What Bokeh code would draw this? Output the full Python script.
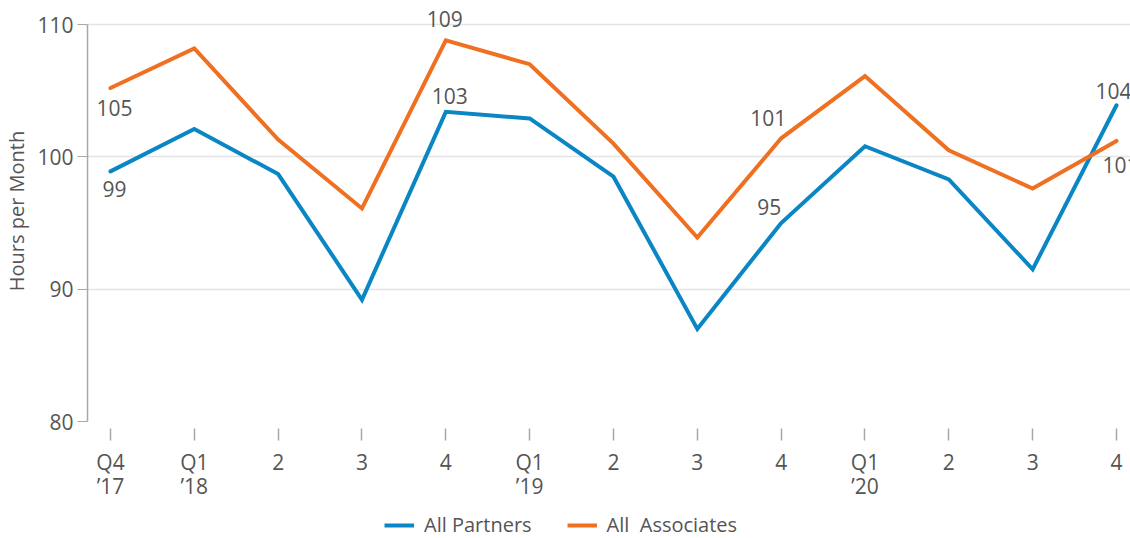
from bokeh.plotting import figure
from bokeh.layouts import column
from bokeh.models import FixedTicker, Legend, LegendItem, ColumnDataSource, Range1d
from bokeh.core.properties import value
from bokeh.embed import file_html
from bokeh.resources import INLINE

# ---- data ----
quarters = ["Q4\n\u201917", "Q1\n\u201918", "2", "3", "4", "Q1\n\u201919", "2", "3", "4",
            "Q1\n\u201920", "2", "3", "4"]
partners = [98.9, 102.1, 98.7, 89.2, 103.4, 102.9, 98.5, 87.0, 95.0, 100.8, 98.3, 91.5, 103.9]
associates = [105.2, 108.2, 101.3, 96.1, 108.8, 107.0, 101.0, 93.9, 101.4, 106.1, 100.5, 97.6, 101.2]
y_ticks = [80, 90, 100, 110]
series_names = ["All Partners", "All\u00a0 Associates"]

# labelled points (index into series)
partner_label_idx = [0, 4, 8, 12]
associate_label_idx = [0, 4, 8, 12]

# ---- style ----
FONT = "Open Sans"
TXT = "#555555"
BLUE = "#0a86c4"
ORANGE = "#f07022"
FS = "21px"

x = list(range(len(quarters)))

y_lo, y_hi = y_ticks[0], y_ticks[-1]
p = figure(width=1130, height=503, output_backend="svg", toolbar_location=None,
           x_range=Range1d(-0.274, 12.167),
           y_range=Range1d(y_lo, y_hi + (y_hi - y_lo) * 24 / 397),
           min_border_left=87, min_border_right=0, min_border_top=0, min_border_bottom=82)
p.outline_line_color = None
p.background_fill_color = "white"
p.border_fill_color = "white"

r_p = p.line(x, partners, line_color=BLUE, line_width=4, line_join="miter", line_cap="round")
r_a = p.line(x, associates, line_color=ORANGE, line_width=4, line_join="miter", line_cap="round")

# data labels
p_off_x = [4, 4, -12, -3]
p_off_y = [18, -16, -16, -14]
a_off_x = [4, -1, -13, 4]
a_off_y = [20, -21, -20, 24]

src_p = ColumnDataSource(dict(
    x=[x[i] for i in partner_label_idx],
    y=[partners[i] for i in partner_label_idx],
    t=[f"{partners[i]:.0f}" for i in partner_label_idx],
    ox=p_off_x, oy=p_off_y))
src_a = ColumnDataSource(dict(
    x=[x[i] for i in associate_label_idx],
    y=[associates[i] for i in associate_label_idx],
    t=[f"{associates[i]:.0f}" for i in associate_label_idx],
    ox=a_off_x, oy=a_off_y))
for s in (src_p, src_a):
    p.text(x="x", y="y", text="t", x_offset="ox", y_offset="oy", source=s,
           text_font=value(FONT), text_font_size=FS, text_color=TXT,
           text_align="center", text_baseline="middle")

# y axis
p.yaxis.ticker = FixedTicker(ticks=y_ticks)
p.yaxis.bounds = (y_lo, y_hi)
p.yaxis.axis_line_color = "#a8a8a8"
p.yaxis.axis_line_width = 1.5
p.yaxis.major_tick_line_color = "#a8a8a8"
p.yaxis.major_tick_in = 0
p.yaxis.major_tick_out = 10
p.yaxis.minor_tick_line_color = None
p.yaxis.major_label_text_font = FONT
p.yaxis.major_label_text_font_size = FS
p.yaxis.major_label_text_color = TXT
p.yaxis.major_label_standoff = 4
p.yaxis.axis_label = "Hours per Month"
p.yaxis.axis_label_text_font = FONT
p.yaxis.axis_label_text_font_size = "20px"
p.yaxis.axis_label_text_font_style = "normal"
p.yaxis.axis_label_text_color = TXT
p.yaxis.axis_label_standoff = 4

# x axis
p.xaxis.ticker = FixedTicker(ticks=x)
p.xaxis.major_label_overrides = {i: q for i, q in enumerate(quarters)}
p.xaxis.axis_line_color = None
p.xaxis.major_tick_line_color = "#a8a8a8"
p.xaxis.major_tick_line_width = 1.5
p.xaxis.major_tick_in = -7
p.xaxis.major_tick_out = 19
p.xaxis.minor_tick_line_color = None
p.xaxis.major_label_text_font = FONT
p.xaxis.major_label_text_font_size = FS
p.xaxis.major_label_text_color = TXT
p.xaxis.major_label_text_line_height = 0.88
p.xaxis.major_label_standoff = 7

p.xgrid.visible = False
p.ygrid.grid_line_color = "#e4e4e4"
p.ygrid.grid_line_width = 1.5

# ---- legend strip (series drawn outside its visible range, only the legend shows) ----
lg = figure(width=1130, height=35, output_backend="svg", toolbar_location=None,
            x_range=Range1d(-20, -19), y_range=Range1d(0, 1),
            x_axis_location=None, y_axis_location=None,
            min_border_left=0, min_border_right=0, min_border_top=0, min_border_bottom=0)
lg.outline_line_color = None
lg.xgrid.visible = False
lg.ygrid.visible = False
l_p = lg.line(x, partners, line_color=BLUE, line_width=4)
l_a = lg.line(x, associates, line_color=ORANGE, line_width=4)
legend = Legend(items=[LegendItem(label=series_names[0], renderers=[l_p]),
                       LegendItem(label=series_names[1], renderers=[l_a])],
                orientation="horizontal", location=(297, 0),
                border_line_color=None, background_fill_alpha=0,
                label_text_font=FONT, label_text_font_size="20px", label_text_color=TXT,
                glyph_width=30, label_standoff=10, spacing=35, padding=2, margin=0)
lg.add_layout(legend, "center")

layout = column(p, lg, spacing=0)
open("out.html", "w").write(file_html(layout, INLINE))
